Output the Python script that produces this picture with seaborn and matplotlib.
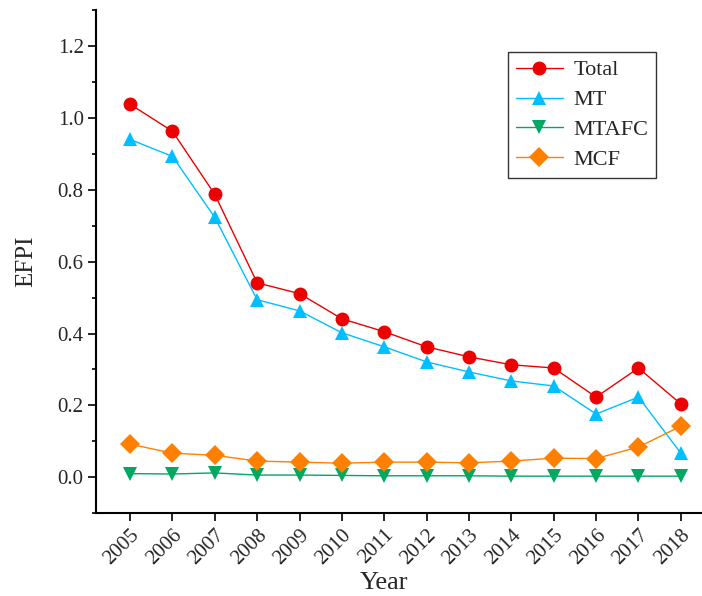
import matplotlib
matplotlib.use("Agg")
from matplotlib import pyplot as plt
from matplotlib.ticker import MultipleLocator
import pandas as pd
import seaborn as sns

years = list(range(2005, 2019))
total = [1.038, 0.963, 0.787, 0.541, 0.511, 0.441, 0.405, 0.363, 0.335, 0.313, 0.304, 0.223, 0.304, 0.204]
mt = [0.940, 0.893, 0.723, 0.494, 0.463, 0.402, 0.363, 0.321, 0.293, 0.268, 0.254, 0.176, 0.223, 0.067]
mtafc = [0.010, 0.009, 0.012, 0.006, 0.006, 0.005, 0.004, 0.004, 0.004, 0.003, 0.003, 0.003, 0.003, 0.003]
mcf = [0.092, 0.067, 0.061, 0.045, 0.042, 0.039, 0.042, 0.042, 0.040, 0.045, 0.053, 0.052, 0.084, 0.142]

series = ["Total", "MT", "MTAFC", "MCF"]
df = pd.DataFrame({"Year": years * 4,
                   "EFPI": total + mt + mtafc + mcf,
                   "series": sum([[s] * len(years) for s in series], [])})

palette = {"Total": "#EC0000", "MT": "#00BFFF", "MTAFC": "#00A862", "MCF": "#FF8000"}
markers = {"Total": "o", "MT": "^", "MTAFC": "v", "MCF": "D"}

sns.set_theme(style="ticks")
plt.rcParams['font.family'] = ['Liberation Serif', 'DejaVu Serif']

fig = plt.figure(figsize=(7.02, 5.96), dpi=100)
ax = fig.add_axes([0.137, 0.139, 0.863, 0.844])

sns.lineplot(data=df, x="Year", y="EFPI", hue="series", style="series",
             palette=palette, markers=markers, dashes=False, linewidth=1,
             markersize=10, markeredgewidth=0, ax=ax)

ax.set_xlim(2004.2, 2018.5)
ax.set_ylim(-0.1, 1.3)
ax.set_xticks(years)
ax.set_xticklabels([str(y) for y in years], rotation=45, fontsize=15,
                   ha="right", rotation_mode="anchor")
ax.yaxis.set_minor_locator(MultipleLocator(0.1))
ax.set_yticks([0.0, 0.2, 0.4, 0.6, 0.8, 1.0, 1.2])
ax.set_yticklabels(["0.0", "0.2", "0.4", "0.6", "0.8", "1.0", "1.2"], fontsize=15)
ax.tick_params(axis="both", which="major", direction="out", length=6, width=1.2,
               color="black", pad=3)
ax.tick_params(axis="y", which="minor", direction="out", length=3, width=1.2, color="black")
ax.set_xlabel("Year", fontsize=19)
ax.set_ylabel("EFPI", fontsize=18)
ax.xaxis.set_label_coords(0.475, -0.117)
ax.yaxis.set_label_coords(-0.097, 0.5)

for s in ["top", "right"]:
    ax.spines[s].set_visible(False)
for s in ["left", "bottom"]:
    ax.spines[s].set_color("black")
    ax.spines[s].set_linewidth(1.5)

leg = ax.legend(loc="upper left", bbox_to_anchor=(0.68, 0.9165), fontsize=16,
                frameon=True, fancybox=False, edgecolor="black", handlelength=2.1,
                borderpad=0.35, labelspacing=0.42, handletextpad=0.5,
                borderaxespad=0)
leg.get_frame().set_linewidth(1)

fig.savefig("out.png", dpi=100)
